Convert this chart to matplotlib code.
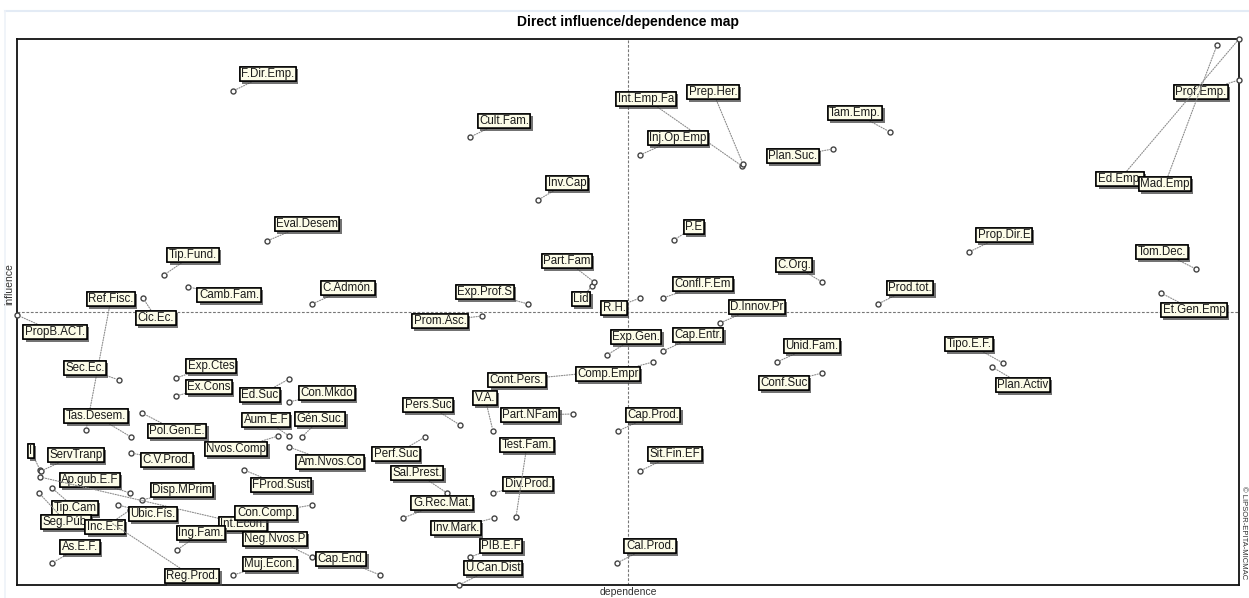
import matplotlib
matplotlib.use('Agg')
import matplotlib.pyplot as plt
import matplotlib.patheffects as pe
from matplotlib.lines import Line2D

# variables of the structural analysis (MICMAC direct map)
names = [
    'F.Dir.Emp.', 'Eval.Desem', 'Tip.Fund.', 'Camb.Fam.', 'C.Admón.', 'Ref.Fisc.', 'Cic.Ec.',
    'PropB.ACT.', 'Sec.Ec.', 'Exp.Ctes', 'Ex.Cons', 'Ed.Suc', 'Con.Mkdo', 'Tas.Desem.',
    'Pol.Gen.E.', 'C.V.Prod.', 'I', 'ServTranp', 'Ap.gub.E.F', 'Disp.MPrim', 'Int.Econ.',
    'Tip.Cam', 'Seg.Púb.', 'Inc.E.F', 'Ubic.Fís.', 'Reg.Prod.', 'As.E.F.', 'Ing.Fam.',
    'Con.Comp.', 'Neg.Nvos.P', 'Cap.End.', 'Muj.Econ.', 'Nvos.Comp', 'Aum.E.F', 'Gén.Suc.',
    'Am.Nvos.Co', 'FProd.Sust', 'Pers.Suc', 'Perf.Suc', 'Sal.Prest.', 'G.Rec.Mat.',
    'Inv.Mark.', 'PIB.E.F', 'U.Can.Dist', 'Div.Prod.', 'Test.Fam.', 'Part.NFam', 'V.A.',
    'Cont.Pers.', 'Comp.Empr', 'Exp.Gen.', 'Cap.Entr.', 'D.Innov.Pr', 'R.H.', 'Lid',
    'Part.Fam', 'Exp.Prof.S', 'Prom.Asc.', 'Confl.F.Em', 'P.E', 'C.Org.', 'Inv.Cap',
    'Cult.Fam.', 'Int.Emp.Fa', 'Prep.Her.', 'Inj.Op.Emp', 'Plan.Suc.', 'Tam.Emp.',
    'Prop.Dir.E', 'Tom.Dec.', 'Prod.tot.', 'Et.Gen.Emp', 'Prof.Emp.', 'Ed.Emp.', 'Mad.Emp',
    'Unid.Fam.', 'Conf.Suc', 'Tipo.E.F.', 'Plan.Activ', 'Cap.Prod.', 'Sit.Fin.EF', 'Cal.Prod.',
]

dependence = [
    216, 250, 147, 171, 295, 69, 126, 0, 102, 159, 159, 272, 272, 114,
    125, 114, 23, 24, 113, 125, 23, 35, 22, 113, 101, 93, 35, 160,
    295, 295, 363, 216, 261, 272, 285, 272, 227, 443, 408, 430, 386,
    477, 453, 442, 476, 499, 556, 476, 561, 636, 590, 646, 703, 623, 575,
    577, 511, 465, 646, 657, 805, 521, 453, 725, 726, 623, 816, 873,
    952, 1179, 861, 1144, 1222, 1222, 1200, 760, 805, 986, 975, 601, 623, 600,
]

influence = [
    494, 344, 310, 298, 281, 155, 287, 270, 205, 207, 189, 206, 183, 148,
    172, 132, 115, 114, 92, 85, 108, 97, 92, 75, 80, 63, 22, 35,
    80, 28, 10, 10, 149, 149, 148, 138, 115, 160, 148, 92, 67,
    67, 28, 0, 92, 68, 171, 154, 211, 223, 230, 234, 262, 287, 299,
    303, 281, 269, 287, 345, 303, 385, 448, 419, 421, 430, 436, 453,
    333, 316, 281, 292, 505, 546, 540, 223, 212, 222, 218, 154, 114, 22,
]

# where each tag sits on the map (same units)
label_dep = [
    251, 290, 176, 212, 331, 94, 139, 38, 68, 194, 192, 243, 310, 79,
    160, 150, 14, 59, 73, 165, 226, 58, 49, 88, 136, 175, 63, 184,
    249, 258, 324, 253, 219, 249, 303, 313, 264, 411, 379, 400, 425,
    439, 484, 476, 511, 510, 513, 468, 500, 591, 619, 681, 740, 597, 564,
    550, 468, 423, 686, 677, 777, 550, 487, 629, 696, 661, 776, 838,
    987, 1145, 893, 1177, 1184, 1103, 1148, 795, 767, 952, 1006, 636, 658, 633,
]

label_inf = [
    511, 361, 330, 290, 297, 286, 267, 253, 217, 219, 198, 190, 192, 169,
    154, 125, 134, 130, 105, 95, 61, 77, 63, 58, 71, 9, 38, 52,
    72, 46, 26, 21, 136, 165, 166, 123, 100, 180, 131, 112, 82,
    57, 39, 17, 101, 140, 170, 187, 205, 211, 248, 250, 278, 277, 286,
    324, 293, 264, 301, 358, 320, 402, 464, 486, 493, 447, 429, 472,
    350, 333, 297, 275, 493, 406, 401, 239, 202, 241, 200, 170, 131, 39,
]

dep_mid = 611
inf_mid = 273

fig = plt.figure(figsize=(12.49, 5.98), dpi=100)
ax = fig.add_axes([17 / 1249, 13 / 598, 1222 / 1249, 546 / 598])
ax.set_xlim(0, 1222)
ax.set_ylim(0, 546)
ax.set_xticks([])
ax.set_yticks([])
for s in ax.spines.values():
    s.set_linewidth(1.3)
    s.set_color('#111111')

# pale frame of the window
fig.add_artist(Line2D([5 / 1249, 1], [1 - 11 / 598, 1 - 11 / 598], color='#e3ebf5', lw=1.5))
fig.add_artist(Line2D([5 / 1249, 5 / 1249], [0, 1 - 11 / 598], color='#eef2f8', lw=1.2))

ax.axvline(dep_mid, color='#777777', lw=0.8, ls=(0, (2.5, 1.5)), zorder=1)
ax.axhline(inf_mid, color='#777777', lw=0.8, ls=(0, (2.5, 1.5)), zorder=1)

ax.plot(dependence, influence, 'o', ms=3.6, mfc='white', mec='#444444', mew=1.0,
        zorder=3, clip_on=False)

shadow = [pe.withSimplePatchShadow(offset=(1.6, -1.6), shadow_rgbFace='#444444', alpha=0.75),
          pe.Normal()]

for name, x, y, lx, ly in zip(names, dependence, influence, label_dep, label_inf):
    ann = ax.annotate(
        name, xy=(x, y), xytext=(lx, ly), ha='center', va='center',
        fontsize=8.3, family='Liberation Sans', color='#1a1a1a',
        bbox=dict(boxstyle='square,pad=0.13', fc='#fcfce8', ec='black', lw=1.1),
        arrowprops=dict(arrowstyle='-', color='#8c8c8c', lw=0.8, ls=(0, (1, 1.3)),
                        shrinkA=0, shrinkB=2),
        zorder=4, annotation_clip=False)
    ann.get_bbox_patch().set_path_effects(shadow)

fig.text(628 / 1249, 1 - 22 / 598, 'Direct influence/dependence map', ha='center', va='center',
         fontsize=10, fontweight='bold', family='Liberation Sans')
fig.text(628 / 1249, 1 - 592 / 598, 'dependence', ha='center', va='center',
         fontsize=7.5, color='#333333', family='Liberation Sans')
fig.text(9 / 1249, 1 - 284 / 598, 'influence', ha='center', va='center', rotation=90,
         fontsize=7.5, color='#333333', family='Liberation Sans')
fig.text(1244 / 1249, 1 - 533 / 598, '© LIPSOR-EPITA-MICMAC', ha='center', va='center',
         rotation=-90, fontsize=5.5, color='#333333', family='Liberation Sans')

fig.savefig('out.png', dpi=100)
plt.close(fig)
